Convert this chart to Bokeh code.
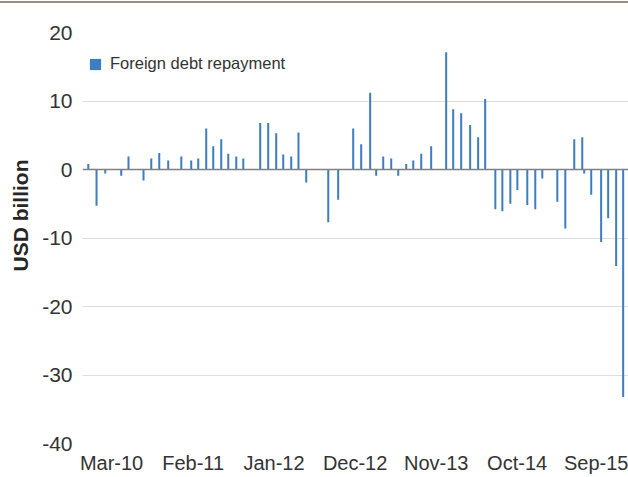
import pandas as pd
from bokeh.plotting import figure
from bokeh.models import (Range1d, FixedTicker, DatetimeTickFormatter, Span,
                          Legend, LegendItem, Title, NumeralTickFormatter)
from bokeh.embed import file_html
from bokeh.resources import INLINE

# ---- data ----
dates = [
    "2009-11-25", "2009-12-29", "2010-02-03", "2010-04-10", "2010-05-10",
    "2010-07-11", "2010-08-12", "2010-09-14", "2010-10-21", "2010-12-14",
    "2011-01-24", "2011-02-22", "2011-03-27", "2011-04-25", "2011-05-28",
    "2011-06-26", "2011-07-29", "2011-08-27", "2011-11-05", "2011-12-08",
    "2012-01-10", "2012-02-08", "2012-03-12", "2012-04-11", "2012-05-13",
    "2012-08-12", "2012-09-22", "2012-11-23", "2012-12-26", "2013-02-01",
    "2013-02-26", "2013-03-27", "2013-04-29", "2013-05-28", "2013-06-30",
    "2013-07-29", "2013-08-31", "2013-10-11", "2013-12-12", "2014-01-10",
    "2014-02-12", "2014-03-21", "2014-04-23", "2014-05-22", "2014-07-03",
    "2014-08-01", "2014-09-03", "2014-10-02", "2014-11-12", "2014-12-15",
    "2015-01-13", "2015-03-16", "2015-04-18", "2015-05-25", "2015-06-27",
    "2015-07-05", "2015-08-03", "2015-09-13", "2015-10-12", "2015-11-14",
    "2015-12-13",
]
repayment = [
    0.8, -5.3, -0.6, -0.9, 1.9,
    -1.6, 1.6, 2.4, 1.3, 1.9,
    1.3, 1.6, 6.0, 3.4, 4.4,
    2.3, 1.9, 1.6, 6.8, 6.8,
    5.3, 2.2, 1.9, 5.4, -1.9,
    -7.7, -4.4, 6.0, 3.7, 11.2,
    -0.9, 1.9, 1.6, -0.9, 0.8,
    1.3, 2.3, 3.4, 17.1, 8.8,
    8.2, 6.5, 4.7, 10.3, -5.8,
    -6.1, -5.0, -3.0, -5.2, -5.8,
    -1.3, -4.7, -8.6, 4.4, 4.7,
    -0.6, -3.7, -10.6, -7.1, -14.1,
    -33.2,
]
series_name = "Foreign debt repayment"
x_tick_dates = ["2010-03-01", "2011-02-01", "2012-01-01", "2012-12-01",
                "2013-11-01", "2014-10-01", "2015-09-01"]
y_ticks = [20, 10, 0, -10, -20, -30, -40]
y_label = "USD billion"

# ---- figure ----
x_dates = pd.to_datetime(dates)
x_ticks_ms = [pd.Timestamp(d).value // 10**6 for d in x_tick_dates]

p = figure(width=628, height=477, x_axis_type="datetime",
           x_range=Range1d(start=pd.Timestamp("2009-11-01"), end=pd.Timestamp("2016-01-04")),
           y_range=Range1d(-40, 20),
           output_backend="svg", toolbar_location=None,
           min_border_left=82, min_border_right=0, min_border_top=32, min_border_bottom=34)
p.outline_line_color = None
p.background_fill_color = "white"
p.border_fill_alpha = 0
# thin rule along the top edge of the chart box
p.styles = {"background-color": "white",
            "box-shadow": "inset 0 1px 0 #FFFFFF, inset 0 3px 0 #9A8C7C"}

bar_color = "#3D7DC0"
r = p.vbar(x=x_dates, top=repayment, bottom=0, width=8.3 * 86400000,
           fill_color=bar_color, line_color=None)

# grid
p.xgrid.visible = False
p.ygrid.ticker = FixedTicker(ticks=[t for t in y_ticks if t != 0])
p.ygrid.grid_line_color = "#BDBDBD"
p.ygrid.grid_line_dash = "1 1"
p.ygrid.grid_line_width = 1

zero = Span(location=0, dimension="width", line_color="#808080", line_width=1.6)
p.add_layout(zero)

tick_font = "Liberation Sans"
# y axis
p.yaxis.ticker = FixedTicker(ticks=y_ticks)
p.yaxis.formatter = NumeralTickFormatter(format="0")
p.yaxis.axis_line_color = None
p.yaxis.major_tick_line_color = None
p.yaxis.minor_tick_line_color = None
p.yaxis.major_tick_out = 0
p.yaxis.minor_tick_out = 0
p.yaxis.major_label_standoff = 10
p.yaxis.major_label_text_font = tick_font
p.yaxis.major_label_text_font_size = "21px"
p.yaxis.major_label_text_color = "#333333"

# x axis
p.xaxis.ticker = FixedTicker(ticks=x_ticks_ms)
fmt = "%b-%y"
p.xaxis.formatter = DatetimeTickFormatter(years=fmt, months=fmt, days=fmt, hours=fmt,
                                          minutes=fmt, seconds=fmt, milliseconds=fmt,
                                          microseconds=fmt, hourmin=fmt, minsec=fmt)
p.xaxis.axis_line_color = None
p.xaxis.major_tick_line_color = None
p.xaxis.minor_tick_line_color = None
p.xaxis.major_tick_out = 0
p.xaxis.minor_tick_out = 0
p.xaxis.major_label_standoff = 8
p.xaxis.major_label_text_font = tick_font
p.xaxis.major_label_text_font_size = "20px"
p.xaxis.major_label_text_color = "#333333"

# legend
legend = Legend(items=[LegendItem(label=series_name, renderers=[r])],
                location=(6, 370), orientation="vertical",
                glyph_width=14, glyph_height=14, label_height=14,
                label_standoff=8, padding=0, margin=0, spacing=0,
                border_line_color=None, background_fill_alpha=0,
                label_text_font=tick_font, label_text_font_size="16.5px",
                label_text_color="#333333")
p.add_layout(legend)

# y axis title (left panel, anchored from the bottom of the frame)
p.add_layout(Title(text=y_label, align="left", offset=172, vertical_align="middle",
                   standoff=13,
                   text_font="Liberation Sans", text_font_style="bold",
                   text_font_size="21px", text_color="#262626"), "left")

open("out.html", "w").write(file_html(p, INLINE))
